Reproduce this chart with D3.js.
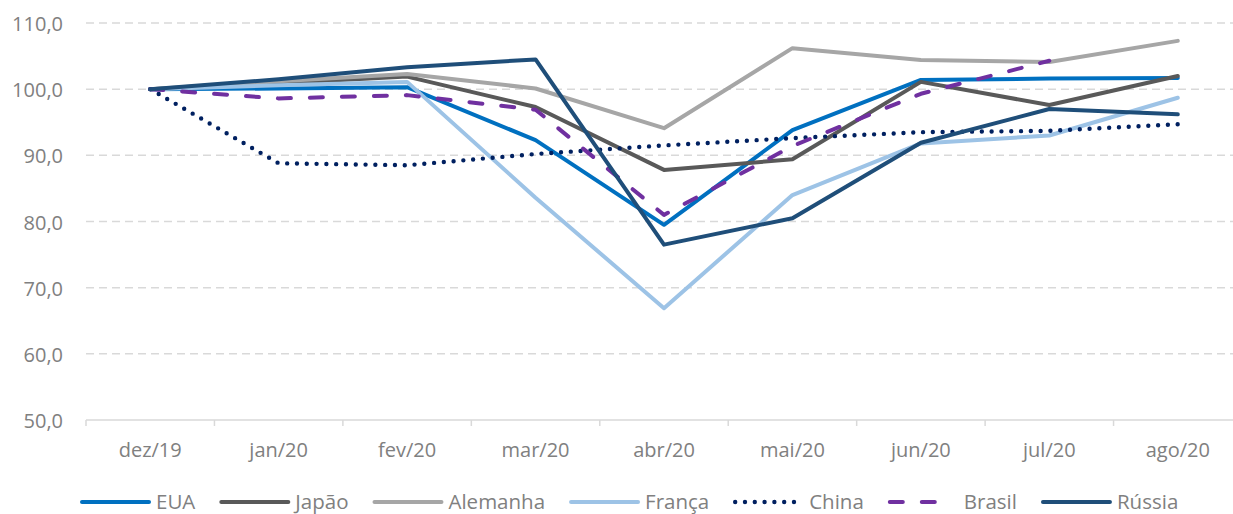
<!DOCTYPE html>
<html>
<head>
<meta charset="utf-8">
<script src="https://cdn.jsdelivr.net/npm/d3@7"></script>
<style>
  html, body { margin: 0; padding: 0; background: #fff; }
  svg { display: block; font-family: "Open Sans", sans-serif; }
</style>
</head>
<body>
<svg id="chart" width="1233" height="514"></svg>
<script>
// Months on the category axis
const months = ["dez/19", "jan/20", "fev/20", "mar/20", "abr/20", "mai/20", "jun/20", "jul/20", "ago/20"];

// Index values (dez/19 = 100) per country
const eua      = [100, 100.1, 100.3, 92.3, 79.5, 93.8, 101.4, 101.6, 101.7];
const japao    = [100, 100.9, 101.9, 97.3, 87.8, 89.4, 101.1, 97.6, 102.0];
const alemanha = [100, 101.2, 102.3, 100.1, 94.1, 106.2, 104.4, 104.1, 107.3];
const franca   = [100, 100.6, 101.1, 83.6, 66.9, 84.0, 91.8, 93.0, 98.7];
const china    = [100, 88.8, 88.5, 90.2, 91.5, 92.6, 93.5, 93.7, 94.7];
const brasil   = [100, 98.6, 99.1, 96.9, 81.0, 91.4, 99.3, 104.3, null];
const russia   = [100, 101.5, 103.3, 104.5, 76.5, 80.5, 91.9, 97.0, 96.2];

// Y axis ticks
const yTicks = [50, 60, 70, 80, 90, 100, 110];

const seriesNames = ["EUA", "Japão", "Alemanha", "França", "China", "Brasil", "Rússia"];
const seriesValues = [eua, japao, alemanha, franca, china, brasil, russia];

const styles = {
  "EUA":      { color: "#0070c0", width: 4, dash: null },
  "Japão":    { color: "#595959", width: 4, dash: null },
  "Alemanha": { color: "#a6a6a6", width: 4, dash: null },
  "França":   { color: "#9dc3e6", width: 4, dash: null },
  "China":    { color: "#002060", width: 4.4, dash: "0,9.8" },
  "Brasil":   { color: "#7030a0", width: 4, dash: "13,19" },
  "Rússia":   { color: "#1f4e79", width: 4, dash: null }
};

const svg = d3.select("#chart");
const W = 1233;
const plot = { left: 86, right: 1242, top: 23, bottom: 420 };

const x = d3.scalePoint().domain(months).range([plot.left, plot.right]).padding(0.5);
const band = (plot.right - plot.left) / months.length;
const y = d3.scaleLinear().domain([50, 110]).range([plot.bottom, plot.top]);

const fmt = v => d3.format(".1f")(v).replace(".", ",");

// Horizontal dashed gridlines
svg.append("g")
  .selectAll("line")
  .data(yTicks.filter(t => t !== 50))
  .join("line")
  .attr("x1", plot.left).attr("x2", W)
  .attr("y1", d => y(d)).attr("y2", d => y(d))
  .attr("stroke", "#d9d9d9")
  .attr("stroke-width", 1.5)
  .attr("stroke-dasharray", "8,5");

// Y axis labels
const yAxis = d3.axisLeft(y).tickValues(yTicks).tickFormat(fmt).tickSize(0).tickPadding(0);
svg.append("g")
  .attr("transform", `translate(${plot.left - 23},0)`)
  .call(yAxis)
  .call(g => g.select(".domain").remove())
  .call(g => g.selectAll("text")
    .attr("fill", "#808080")
    .attr("font-size", "20px")
    .attr("font-family", "'Open Sans', sans-serif")
    .attr("dy", "0.38em"));

// Category axis: baseline, tick marks between categories, labels
const xg = svg.append("g");
xg.append("line")
  .attr("x1", plot.left).attr("x2", W)
  .attr("y1", y(50)).attr("y2", y(50))
  .attr("stroke", "#d9d9d9").attr("stroke-width", 1.5);
xg.selectAll("line.tick")
  .data(d3.range(months.length + 1))
  .join("line")
  .attr("class", "tick")
  .attr("x1", i => plot.left + i * band).attr("x2", i => plot.left + i * band)
  .attr("y1", y(50)).attr("y2", y(50) + 6)
  .attr("stroke", "#d9d9d9").attr("stroke-width", 1.5);
xg.selectAll("text")
  .data(months)
  .join("text")
  .attr("x", d => x(d))
  .attr("y", y(50) + 37)
  .attr("text-anchor", "middle")
  .attr("fill", "#808080")
  .attr("font-size", "20px")
  .text(d => d);

// Series lines
const line = d3.line()
  .defined(d => d.v !== null)
  .x(d => x(d.m))
  .y(d => y(d.v));

const lines = svg.append("g");
seriesNames.forEach((name, i) => {
  const s = styles[name];
  const pts = months.map((m, j) => ({ m, v: seriesValues[i][j] }));
  lines.append("path")
    .datum(pts)
    .attr("d", line)
    .attr("fill", "none")
    .attr("stroke", s.color)
    .attr("stroke-width", s.width)
    .attr("stroke-linejoin", "round")
    .attr("stroke-linecap", "round")
    .attr("stroke-dasharray", s.dash);
});

// Legend
const legend = svg.append("g").attr("transform", "translate(0,502)");
let lx = 80;
seriesNames.forEach(name => {
  const s = styles[name];
  const item = legend.append("g");
  // dashed sample shows two full dashes only
  const sampleEnd = name === "Brasil" ? 49 : 69;
  item.append("line")
    .attr("x1", lx + 2).attr("x2", lx + sampleEnd)
    .attr("y1", 0).attr("y2", 0)
    .attr("stroke", s.color)
    .attr("stroke-width", s.width)
    .attr("stroke-linecap", "round")
    .attr("stroke-dasharray", s.dash);
  const t = item.append("text")
    .attr("x", lx + 76)
    .attr("y", 6.5)
    .attr("fill", "#808080")
    .attr("font-size", "20.5px")
    .text(name);
  lx += 76 + t.node().getComputedTextLength() + 24;
});
</script>
</body>
</html>
